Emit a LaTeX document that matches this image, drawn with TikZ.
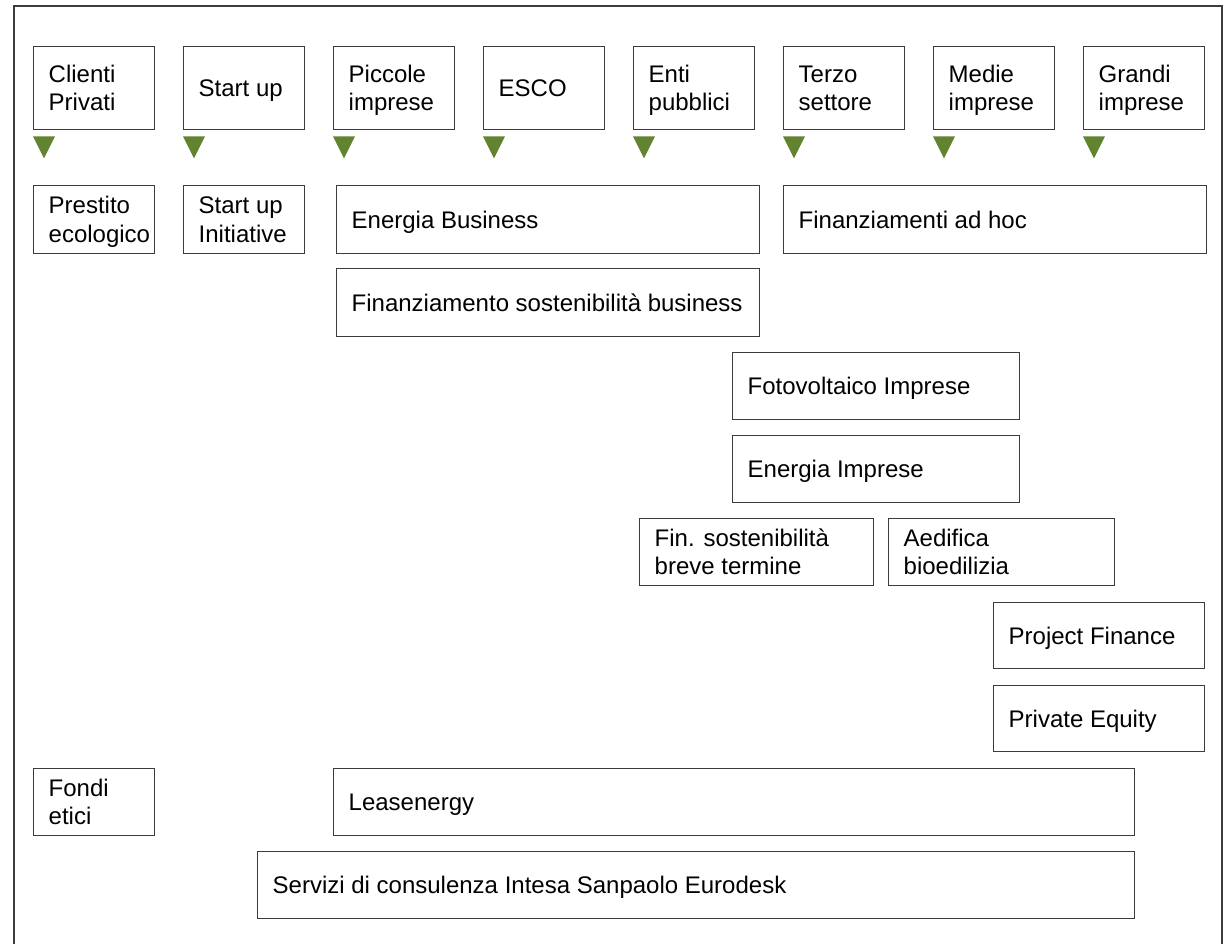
\documentclass[tikz,border=0pt]{standalone}
\usepackage{fontspec}
\setmainfont{Liberation Sans}
\usetikzlibrary{calc}
\definecolor{boxline}{RGB}{60,60,60}
\definecolor{trigreen}{RGB}{98,132,48}
\newcommand\fstrut{\rule[-0.212em]{0pt}{1.117em}}
\newcommand\prodbox[6]{%
  \pgfmathsetmacro\boxtw{#4-30}%
  \node[prod, minimum width=#4pt, minimum height=#5pt, text width=\boxtw pt] (#1) at (#2,#3) {#6};%
}

\begin{document}
\hyphenpenalty=10000
\begin{tikzpicture}[
    x=1pt, y=-1pt,
    prod/.style={
        draw=boxline,
        line width=1.4pt,
        anchor=north west,
        inner xsep=15pt,
        inner ysep=0pt,
        align=flush left,
        font=\fontsize{24}{28.8}\selectfont,
        execute at begin node=\fstrut,
        execute at end node=\fstrut
      },
    segarrow/.style={fill=trigreen}
  ]
  \useasboundingbox (0,0) rectangle (1224,944);
  \draw[boxline, line width=1.4pt] (14,944) -- (14,6) -- (1222,6) -- (1222,944);

  \foreach [count=\i] \seg in {{Clienti\\Privati}, {Start up}, {Piccole\\imprese}, {ESCO},
      {Enti\\pubblici}, {Terzo\\settore}, {Medie\\imprese}, {Grandi\\imprese}} {
      \pgfmathsetmacro\segx{33+150*(\i-1)}
      \prodbox{seg\i}{\segx}{46}{121}{83}{\seg}
      \fill[segarrow] ($(seg\i.south west)+(0,6)$) -- ++(22,0) -- ++(-11,22) -- cycle;
    }

  \prodbox{prestito}{33}{185}{121}{68}{Prestito\\ecologico}
  \prodbox{startinit}{183}{185}{121}{68}{Start up\\Initiative}
  \prodbox{energiabiz}{336}{185}{423}{68}{Energia Business}
  \prodbox{adhoc}{783}{185}{423}{68}{Finanziamenti ad hoc}
  \prodbox{sostbiz}{336}{268}{423}{68}{Finanziamento sostenibilità business}

  \prodbox{fotovolt}{732}{352}{287}{67}{Fotovoltaico Imprese}
  \prodbox{energiaimp}{732}{435}{287}{67}{Energia Imprese}
  \prodbox{breve}{639}{518}{234}{67}{Fin. sostenibilità\\breve termine}
  \prodbox{aedifica}{888}{518}{226}{67}{Aedifica\\bioedilizia}
  \prodbox{project}{993}{602}{211}{66}{Project Finance}
  \prodbox{equity}{993}{685}{211}{66}{Private Equity}

  \prodbox{fondi}{33}{768}{121}{67}{Fondi\\etici}
  \prodbox{lease}{333}{768}{801}{67}{Leasenergy}
  \prodbox{eurodesk}{257}{851}{877}{67}{Servizi di consulenza Intesa Sanpaolo Eurodesk}
\end{tikzpicture}
\end{document}
